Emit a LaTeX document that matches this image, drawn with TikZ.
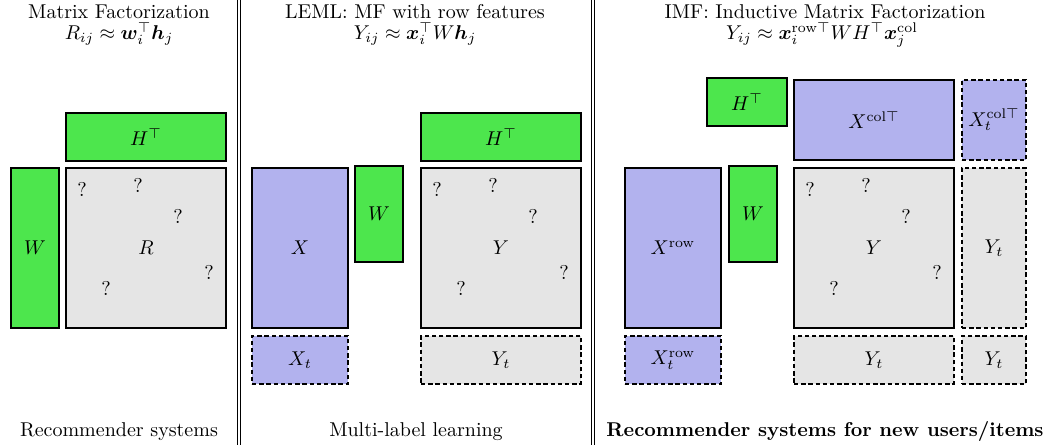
\documentclass[tikz,border=0pt]{standalone}
\usepackage{bm}
\usetikzlibrary{calc}

\definecolor{fgreen}{RGB}{77,230,77}
\definecolor{fblue}{RGB}{178,178,238}
\definecolor{fgray}{RGB}{229,229,229}

\tikzset{
  mat/.style={draw=black, line width=0.9pt, inner sep=0pt, outer sep=0pt},
  testbox/.style={mat, dash pattern=on 2.2pt off 1.4pt},
  size/.style 2 args={minimum width={#1*0.5pt}, minimum height={#2*0.5pt}},
  factor/.style={fill=fgreen},
  feature/.style={fill=fblue},
  obs/.style={fill=fgray},
  qm/.style={inner sep=0pt},
  title/.style={anchor=base, inner sep=0pt},
  sep/.style={line width=0.5pt},
}

\begin{document}
\begin{tikzpicture}[x=0.5pt, y=-0.5pt]
\useasboundingbox (0,0) rectangle (1052,445);

% ---------- panel 1: matrix factorization ----------
\node[title] (t1a) at (119,18.5) {Matrix Factorization};
\node[title] (t1b) at (119,39.5) {$R_{ij} \approx \bm{w}_i^\top \bm{h}_j$};
\node[mat, factor, size={160}{48}] (H1) at (146,137) {$H^\top$};
\node[mat, factor, size={48}{160}] (W1) at (35,248) {$W$};
\node[mat, obs, size={160}{160}] (R1) at (146,248) {$R$};
\node[title] (b1) at (119,436) {Recommender systems};

% ---------- panel 2: LEML ----------
\node[title] (t2a) at (415,18.5) {LEML: MF with row features};
\node[title] (t2b) at (415,39.5) {$Y_{ij} \approx \bm{x}_i^\top W \bm{h}_j$};
\node[mat, factor, size={160}{48}] (H2) at (501,137) {$H^\top$};
\node[mat, feature, size={96}{160}] (X2) at (300,248) {$X$};
\node[mat, factor, size={48}{96}] (W2) at (379,214) {$W$};
\node[mat, obs, size={160}{160}] (Y2) at (501,248) {$Y$};
\node[testbox, feature, size={96}{48}] (Xt2) at (300,360) {$X_t$};
\node[testbox, obs, size={160}{48}] (Yt2) at (501,360) {$Y_t$};
\node[title] (b2) at (416,436) {Multi-label learning};

% ---------- panel 3: inductive matrix factorization ----------
\node[title] (t3a) at (825,18.5) {IMF: Inductive Matrix Factorization};
\node[title] (t3b) at (822,39.5) {$Y_{ij} \approx \bm{x}_i^{\mathrm{row}\top} W H^\top \bm{x}_j^{\mathrm{col}}$};
\node[mat, factor, size={80}{48}] (H3) at (747,102) {$H^\top$};
\node[mat, feature, size={160}{80}] (Xc3) at (874,120) {$X^{\mathrm{col}\top}$};
\node[testbox, feature, size={64}{80}] (Xtc3) at (994,120) {$X_t^{\mathrm{col}\top}$};
\node[mat, feature, size={96}{160}] (Xr3) at (673,248) {$X^{\mathrm{row}}$};
\node[mat, factor, size={48}{96}] (W3) at (753,214) {$W$};
\node[mat, obs, size={160}{160}] (Y3) at (874,248) {$Y$};
\node[testbox, obs, size={64}{160}] (Ytr3) at (994,248) {$Y_t$};
\node[testbox, feature, size={96}{48}] (Xtr3) at (673,360) {$X_t^{\mathrm{row}}$};
\node[testbox, obs, size={160}{48}] (Ytb3) at (874,360) {$Y_t$};
\node[testbox, obs, size={64}{48}] (Ytc3) at (994,360) {$Y_t$};
\node[title] (b3) at (825,436) {\textbf{Recommender systems for new users/items}};

% missing entries scattered over each observed matrix
\foreach \m in {R1,Y2,Y3}{
  \foreach \dx/\dy [count=\k] in {16/21, 72/17, 112/48, 143/104, 40/120}{
    \node[qm] (\m q\k) at ($(\m.north west)+(\dx,\dy)$) {?};
  }
}

% double rules between the panels
\draw[sep] (237,0) -- (237,445);
\draw[sep] (240.5,0) -- (240.5,445);
\draw[sep] (591,0) -- (591,445);
\draw[sep] (594.5,0) -- (594.5,445);
\end{tikzpicture}
\end{document}
